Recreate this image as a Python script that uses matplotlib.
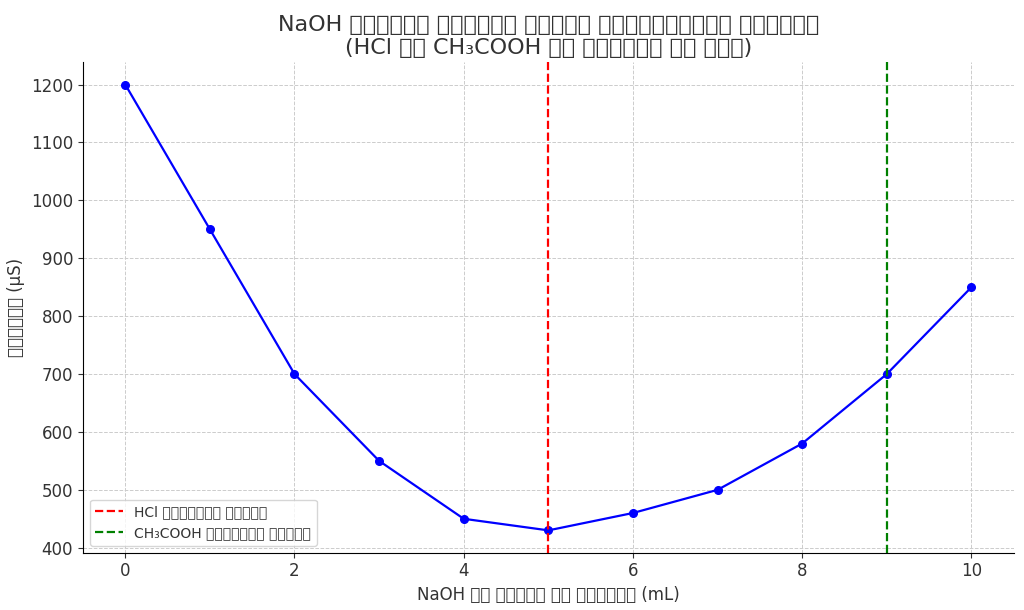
import matplotlib
matplotlib.use("Agg")
import matplotlib.pyplot as plt

# NaOH volume (mL) vs conductance (uS)
naoh_volume = [0, 1, 2, 3, 4, 5, 6, 7, 8, 9, 10]
conductance = [1200, 950, 700, 550, 450, 430, 460, 500, 580, 700, 850]

hcl_endpoint = 5
acetic_endpoint = 9

title_text = "NaOH द्वारा मिश्रण विलयन चालकतामिति अनुमाप\n(HCl और CH₃COOH के मिश्रण के साथ)"
xlabel_text = "NaOH के विलयन की मात्रा (mL)"
ylabel_text = "चालकता (µS)"
hcl_label = "HCl तुल्यता बिंदु"
acetic_label = "CH₃COOH तुल्यता बिंदु"

plt.rcParams['font.family'] = ['DejaVu Sans']
text_col = '#333333'

fig, ax = plt.subplots(figsize=(10.24, 6.1), dpi=100)

ax.plot(naoh_volume, conductance, marker='o', color='blue', linewidth=1.6, markersize=5.5)
ax.axvline(hcl_endpoint, color='red', linestyle='--', linewidth=1.6, label=hcl_label)
ax.axvline(acetic_endpoint, color='green', linestyle='--', linewidth=1.6, label=acetic_label)

ax.set_title(title_text, fontsize=16, color=text_col)
ax.set_xlabel(xlabel_text, fontsize=12, color=text_col)
ax.set_ylabel(ylabel_text, fontsize=12, color=text_col)
ax.tick_params(labelsize=12, colors=text_col)

ax.grid(True, linestyle='--', color='#cccccc', linewidth=0.7)
ax.spines['top'].set_visible(False)
ax.spines['right'].set_visible(False)

ax.legend(loc='lower left', fontsize=10, labelcolor=text_col)

fig.subplots_adjust(left=0.081, right=0.99, top=0.898, bottom=0.094)
fig.savefig("out.png")
